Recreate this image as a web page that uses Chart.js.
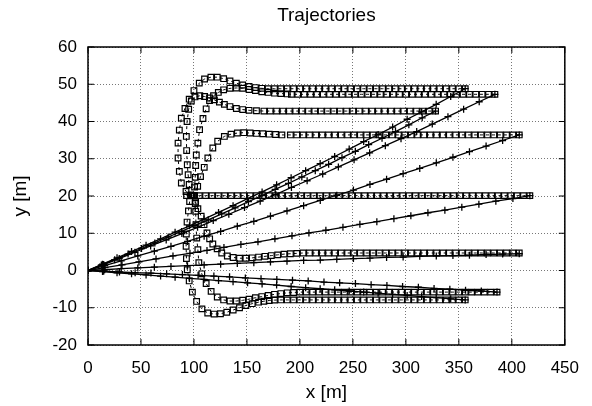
<!DOCTYPE html>
<html>
<head>
<meta charset="utf-8">
<title>Trajectories</title>
<script src="https://cdn.jsdelivr.net/npm/chart.js@4.4.1/dist/chart.umd.min.js"></script>
<style>
html, body { margin: 0; padding: 0; background: #fff; }
#c { display: block; }
</style>
</head>
<body>
<canvas id="c" width="592" height="406"></canvas>
<script>
// axes
var chartTitle = 'Trajectories';
var xTicks = [0, 50, 100, 150, 200, 250, 300, 350, 400, 450];
var yTicks = [-20, -10, 0, 10, 20, 30, 40, 50, 60];

// initial guesses ("+" lines), x and y in metres
var p1x = [0, 13.7, 27.4, 41.1, 54.8, 68.5, 82.2, 95.8, 109.5, 123.2, 136.9, 150.6, 164.3, 178, 191.7, 205.4, 219.1, 232.8, 246.5, 260.2, 273.8, 287.5, 301.2, 314.9, 328.6, 342.3, 356];
var p1y = [0, 1.7, 3.4, 5.1, 6.8, 8.5, 10.3, 12.0, 13.8, 15.6, 17.4, 19.3, 21.1, 23.0, 24.9, 26.8, 28.7, 30.6, 32.6, 34.6, 36.5, 38.5, 40.6, 42.6, 44.6, 46.7, 48.8];
var p2x = [0, 14.8, 29.5, 44.3, 59.1, 73.8, 88.6, 103.4, 118.2, 132.9, 147.7, 162.5, 177.2, 192, 206.8, 221.5, 236.3, 251.1, 265.8, 280.6, 295.4, 310.2, 324.9, 339.7, 354.5, 369.2, 384];
var p2y = [0, 1.6, 3.2, 4.9, 6.6, 8.2, 9.9, 11.6, 13.4, 15.1, 16.9, 18.6, 20.4, 22.3, 24.1, 25.9, 27.8, 29.7, 31.6, 33.5, 35.4, 37.3, 39.3, 41.3, 43.3, 45.3, 47.3];
var p3x = [0, 12.6, 25.2, 37.8, 50.5, 63.1, 75.7, 88.3, 100.9, 113.5, 126.2, 138.8, 151.4, 164, 176.6, 189.2, 201.8, 214.5, 227.1, 239.7, 252.3, 264.9, 277.5, 290.2, 302.8, 315.4, 328];
var p3y = [0, 1.5, 2.9, 4.4, 5.9, 7.4, 9.0, 10.5, 12.1, 13.6, 15.2, 16.8, 18.5, 20.1, 21.8, 23.4, 25.1, 26.8, 28.5, 30.3, 32.0, 33.8, 35.5, 37.3, 39.1, 41.0, 42.8];
var p4x = [0, 15.7, 31.3, 47, 62.6, 78.3, 93.9, 109.6, 125.2, 140.9, 156.5, 172.2, 187.8, 203.5, 219.2, 234.8, 250.5, 266.1, 281.8, 297.4, 313.1, 328.7, 344.4, 360, 375.7, 391.3, 407];
var p4y = [0, 1.3, 2.6, 3.9, 5.2, 6.5, 7.8, 9.2, 10.5, 11.9, 13.2, 14.6, 16.0, 17.4, 18.8, 20.2, 21.6, 23.1, 24.5, 26.0, 27.4, 28.9, 30.4, 31.9, 33.4, 34.9, 36.4];
var p5x = [0, 16, 32.1, 48.1, 64.2, 80.2, 96.2, 112.3, 128.3, 144.3, 160.4, 176.4, 192.5, 208.5, 224.5, 240.6, 256.6, 272.6, 288.7, 304.7, 320.8, 336.8, 352.8, 368.9, 384.9, 401, 417];
var p5y = [0, 0.8, 1.5, 2.3, 3.1, 3.9, 4.6, 5.4, 6.2, 7.0, 7.7, 8.5, 9.3, 10.1, 10.8, 11.6, 12.4, 13.1, 13.9, 14.7, 15.5, 16.2, 17.0, 17.8, 18.6, 19.3, 20.1];
var p6x = [0, 15.7, 31.3, 47, 62.6, 78.3, 93.9, 109.6, 125.2, 140.9, 156.5, 172.2, 187.8, 203.5, 219.2, 234.8, 250.5, 266.1, 281.8, 297.4, 313.1, 328.7, 344.4, 360, 375.7, 391.3, 407];
var p6y = [0, 0.2, 0.5, 0.7, 0.9, 1.1, 1.3, 1.5, 1.7, 1.9, 2.1, 2.3, 2.5, 2.7, 2.8, 3.0, 3.2, 3.3, 3.5, 3.6, 3.8, 3.9, 4.0, 4.1, 4.3, 4.4, 4.5];
var p7x = [0, 14.8, 29.7, 44.5, 59.4, 74.2, 89.1, 103.9, 118.8, 133.6, 148.5, 163.3, 178.2, 193, 207.8, 222.7, 237.5, 252.4, 267.2, 282.1, 296.9, 311.8, 326.6, 341.5, 356.3, 371.2, 386];
var p7y = [0, -0.2, -0.4, -0.6, -0.7, -0.9, -1.1, -1.3, -1.5, -1.7, -2.0, -2.2, -2.4, -2.6, -2.8, -3.1, -3.3, -3.5, -3.8, -4.0, -4.3, -4.5, -4.8, -5.0, -5.3, -5.5, -5.8];
var p8x = [0, 13.7, 27.4, 41.1, 54.8, 68.5, 82.2, 95.8, 109.5, 123.2, 136.9, 150.6, 164.3, 178, 191.7, 205.4, 219.1, 232.8, 246.5, 260.2, 273.8, 287.5, 301.2, 314.9, 328.6, 342.3, 356];
var p8y = [0, -0.3, -0.6, -0.9, -1.2, -1.5, -1.8, -2.1, -2.4, -2.7, -3.0, -3.3, -3.6, -3.9, -4.3, -4.6, -4.9, -5.2, -5.5, -5.8, -6.1, -6.4, -6.7, -7.0, -7.3, -7.6, -7.9];

// optimised trajectories (squares), [x, y] pairs
var t1 = [[98,20.1],[92.5,21.2],[88.1,23.5],[86.2,26.6],[85,30.2],[85,34.2],[86.2,37.7],[88.1,40.9],[91.5,43.5],[95.5,46],[100,48.3],[105,50.3],[110,51.4],[116,51.9],[122,51.9],[128,51.5],[134,50.9],[140,50.3],[146,49.8],[152,49.4],[158,49.1],[164,48.9],[170,48.8],[176,48.8],[182,48.8],[188,48.8],[194,48.8],[200,48.8],[206,48.8],[212,48.8],[218,48.8],[224,48.8],[230,48.8],[236,48.8],[242,48.8],[248,48.8],[254,48.8],[260,48.8],[266,48.8],[272,48.8],[278,48.8],[284,48.8],[290,48.8],[296,48.8],[302,48.8],[308,48.8],[314,48.8],[320,48.8],[326,48.8],[332,48.8],[338,48.8],[344,48.8],[350,48.8],[356,48.8]];
var t2 = [[100,20.1],[100.6,22.4],[101.2,25],[101.6,28.2],[102.2,31],[103.7,34.2],[105.3,37.8],[108.5,40.8],[111.5,43.4],[114.7,45.6],[118.5,46.9],[123,47.8],[128,48.5],[134,48.9],[140,49],[146,48.9],[152,48.6],[158,48.3],[164,48],[170,47.8],[176,47.6],[182,47.5],[188,47.4],[192,47.3],[198,47.3],[204,47.3],[210,47.3],[216,47.3],[222,47.3],[228,47.3],[234,47.3],[240,47.3],[246,47.3],[252,47.3],[258,47.3],[264,47.3],[270,47.3],[276,47.3],[282,47.3],[288,47.3],[294,47.3],[300,47.3],[306,47.3],[312,47.3],[318,47.3],[324,47.3],[330,47.3],[336,47.3],[342,47.3],[348,47.3],[354,47.3],[360,47.3],[366,47.3],[372,47.3],[378,47.3],[384,47.3]];
var t3 = [[97,20.3],[95.5,23.1],[94.5,25.7],[93.7,28.4],[93.1,32.2],[92.8,36],[93.5,40],[95,43.3],[97.5,45.5],[101,46.6],[105.5,46.9],[110,46.7],[114.7,46.3],[119.3,45.8],[124,45.2],[128.7,44.6],[134,44],[140,43.5],[146,43.2],[152,43],[159,42.9],[166,42.8],[172,42.8],[178,42.8],[184,42.8],[190,42.8],[196,42.8],[202,42.8],[208,42.8],[214,42.8],[220,42.8],[226,42.8],[232,42.8],[238,42.8],[244,42.8],[250,42.8],[256,42.8],[262,42.8],[268,42.8],[274,42.8],[280,42.8],[286,42.8],[292,42.8],[298,42.8],[304,42.8],[310,42.8],[316,42.8],[322,42.8],[328,42.8]];
var t4 = [[100,20.1],[103.5,22.6],[106.2,25.2],[109.7,27.7],[113.1,30.2],[117.8,32.9],[122.4,34.7],[128.7,36],[135,36.6],[141,36.9],[147,37],[153,36.9],[159,36.8],[165,36.7],[171,36.6],[177,36.5],[183,36.4],[191,36.4],[197,36.4],[203,36.4],[209,36.4],[215,36.4],[221,36.4],[227,36.4],[233,36.4],[239,36.4],[245,36.4],[251,36.4],[257,36.4],[263,36.4],[269,36.4],[275,36.4],[281,36.4],[287,36.4],[293,36.4],[299,36.4],[305,36.4],[311,36.4],[317,36.4],[323,36.4],[329,36.4],[335,36.4],[341,36.4],[347,36.4],[353,36.4],[359,36.4],[365,36.4],[371,36.4],[377,36.4],[383,36.4],[389,36.4],[395,36.4],[401,36.4],[407,36.4]];
var t5 = [[93,20.1],[99,20.1],[105,20.1],[111,20.1],[117,20.1],[123,20.1],[129,20.1],[135,20.1],[141,20.1],[147,20.1],[153,20.1],[159,20.1],[165,20.1],[171,20.1],[177,20.1],[183,20.1],[189,20.1],[195,20.1],[201,20.1],[207,20.1],[213,20.1],[219,20.1],[225,20.1],[231,20.1],[237,20.1],[243,20.1],[249,20.1],[255,20.1],[261,20.1],[267,20.1],[273,20.1],[279,20.1],[285,20.1],[291,20.1],[297,20.1],[303,20.1],[309,20.1],[315,20.1],[321,20.1],[327,20.1],[333,20.1],[339,20.1],[345,20.1],[351,20.1],[357,20.1],[363,20.1],[369,20.1],[375,20.1],[381,20.1],[387,20.1],[393,20.1],[399,20.1],[405,20.1],[411,20.1],[417,20.1]];
var b1 = [[100,20.1],[101.5,18.4],[103.7,16.6],[106.8,14.6],[109.5,12.3],[112.3,10.1],[114.8,8.5],[117.8,7.1],[121.9,5.8],[126.2,4.7],[131.5,3.9],[137,3.5],[143,3.3],[149,3.3],[155,3.4],[161,3.6],[167,3.8],[173,4],[179,4.2],[185,4.4],[191,4.5],[197,4.6],[203,4.7],[209,4.7],[215,4.7],[221,4.7],[227,4.7],[233,4.7],[239,4.7],[245,4.7],[251,4.7],[257,4.7],[263,4.7],[269,4.7],[275,4.7],[281,4.7],[287,4.7],[293,4.7],[299,4.7],[305,4.7],[311,4.7],[317,4.7],[323,4.7],[329,4.7],[335,4.7],[341,4.7],[347,4.7],[353,4.7],[359,4.7],[365,4.7],[371,4.7],[377,4.7],[383,4.7],[389,4.7],[395,4.7],[401,4.7],[407,4.7]];
var b2 = [[100.6,20.1],[101.2,18],[101.6,15.9],[101.9,12.3],[102.6,8.7],[103.7,5.6],[104.6,2.1],[107.4,-0.9],[111.5,-3.5],[116.2,-5.6],[122,-7.1],[128,-7.9],[134,-8.2],[140,-8.2],[146,-8],[152,-7.7],[158,-7.3],[164,-7],[170,-6.7],[176,-6.4],[182,-6.2],[188,-6],[194,-5.9],[200,-5.8],[206,-5.8],[212,-5.8],[218,-5.8],[224,-5.8],[230,-5.8],[236,-5.8],[242,-5.8],[248,-5.8],[254,-5.8],[260,-5.8],[266,-5.8],[272,-5.8],[278,-5.8],[284,-5.8],[290,-5.8],[296,-5.8],[302,-5.8],[308,-5.8],[314,-5.8],[320,-5.8],[326,-5.8],[332,-5.8],[338,-5.8],[344,-5.8],[350,-5.8],[356,-5.8],[362,-5.8],[368,-5.8],[374,-5.8],[380,-5.8],[386,-5.8]];
var b3 = [[97,20.1],[95.9,18.5],[94.8,16],[93.5,13],[92.8,9.8],[92.6,6.5],[92.9,3.2],[93.7,0.2],[95.5,-2.8],[98.5,-5.8],[102.5,-8.3],[107.5,-10.3],[113,-11.4],[119,-11.7],[125,-11.6],[131,-11.2],[137,-10.6],[143,-10],[149,-9.4],[155,-8.9],[161,-8.5],[166,-8.25],[171,-8.05],[176,-7.95],[182,-7.9],[188,-7.9],[194,-7.9],[200,-7.9],[206,-7.9],[212,-7.9],[218,-7.9],[224,-7.9],[230,-7.9],[236,-7.9],[242,-7.9],[248,-7.9],[254,-7.9],[260,-7.9],[266,-7.9],[272,-7.9],[278,-7.9],[284,-7.9],[290,-7.9],[296,-7.9],[302,-7.9],[308,-7.9],[314,-7.9],[320,-7.9],[326,-7.9],[332,-7.9],[338,-7.9],[344,-7.9],[350,-7.9],[356,-7.9]];

var family = "'Liberation Sans', Arial, sans-serif";
var tickFont = {family: family, size: 17};
var labelFont = {family: family, size: 19};

function xyPts(xs, ys) {
    return xs.map(function (x, i) { return {x: x, y: ys[i]}; });
}
function pairPts(a) {
    return a.map(function (p) { return {x: p[0], y: p[1]}; });
}

function squareSet(a) {
    return {
        data: pairPts(a), showLine: true,
        borderColor: '#000', borderWidth: 1, borderDash: [3, 3],
        pointStyle: 'rect', pointRadius: 4, pointBorderWidth: 1.2,
        pointBorderColor: '#000', pointBackgroundColor: 'rgba(0,0,0,0)'
    };
}
function plusSet(xs, ys) {
    return {
        data: xyPts(xs, ys), showLine: true,
        borderColor: '#000', borderWidth: 1.3,
        pointStyle: 'cross', pointRadius: 3.5, pointBorderWidth: 1.3,
        pointBorderColor: '#000'
    };
}

// gnuplot-like frame with inward ticks on all four sides, title over the plot box
var framePlugin = {
    id: 'frame',
    afterDraw: function (chart) {
        var ctx = chart.ctx, a = chart.chartArea;
        var sx = chart.scales.x, sy = chart.scales.y;
        ctx.save();
        ctx.strokeStyle = '#000';
        ctx.lineWidth = 1;
        ctx.beginPath();
        xTicks.forEach(function (v) {
            var px = sx.getPixelForValue(v);
            ctx.moveTo(px, a.bottom); ctx.lineTo(px, a.bottom - 6);
            ctx.moveTo(px, a.top); ctx.lineTo(px, a.top + 6);
        });
        yTicks.forEach(function (v) {
            var py = sy.getPixelForValue(v);
            ctx.moveTo(a.left, py); ctx.lineTo(a.left + 6, py);
            ctx.moveTo(a.right, py); ctx.lineTo(a.right - 6, py);
        });
        ctx.stroke();
        ctx.lineWidth = 1.5;
        ctx.strokeRect(a.left, a.top, a.right - a.left, a.bottom - a.top);

        ctx.fillStyle = '#000';
        ctx.font = labelFont.size + 'px ' + family;
        ctx.textAlign = 'center';
        ctx.textBaseline = 'middle';
        ctx.fillText(chartTitle, (a.left + a.right) / 2, 16);
        ctx.restore();
    }
};

Chart.defaults.color = '#000';

new Chart(document.getElementById('c'), {
    type: 'scatter',
    data: {
        datasets: [
            squareSet(t1), squareSet(t2), squareSet(t3), squareSet(t4),
            squareSet(t5), squareSet(b1), squareSet(b2), squareSet(b3),
            plusSet(p1x, p1y), plusSet(p2x, p2y), plusSet(p3x, p3y), plusSet(p4x, p4y),
            plusSet(p5x, p5y), plusSet(p6x, p6y), plusSet(p7x, p7y), plusSet(p8x, p8y)
        ]
    },
    options: {
        responsive: false,
        animation: false,
        layout: {padding: {left: 0, right: 22, top: 47, bottom: 0}},
        plugins: {
            legend: {display: false},
            tooltip: {enabled: false},
            title: {display: false}
        },
        scales: {
            x: {
                type: 'linear', min: 0, max: 450,
                ticks: {stepSize: 50, padding: 13, font: tickFont, color: '#000', maxRotation: 0},
                grid: {color: '#777', lineWidth: 1, drawTicks: false},
                border: {display: false, dash: [1, 2]},
                title: {display: true, text: 'x [m]', font: labelFont, color: '#000', padding: {top: 0, bottom: 2}},
                afterFit: function (s) { s.height = 61; }
            },
            y: {
                type: 'linear', min: -20, max: 60,
                ticks: {stepSize: 10, padding: 11, font: tickFont, color: '#000'},
                grid: {color: '#777', lineWidth: 1, drawTicks: false},
                border: {display: false, dash: [1, 2]},
                title: {display: true, text: 'y [m]', font: labelFont, color: '#000', padding: {top: 9, bottom: 0}},
                afterFit: function (s) { s.width = 88; }
            }
        }
    },
    plugins: [framePlugin]
});
</script>
</body>
</html>
